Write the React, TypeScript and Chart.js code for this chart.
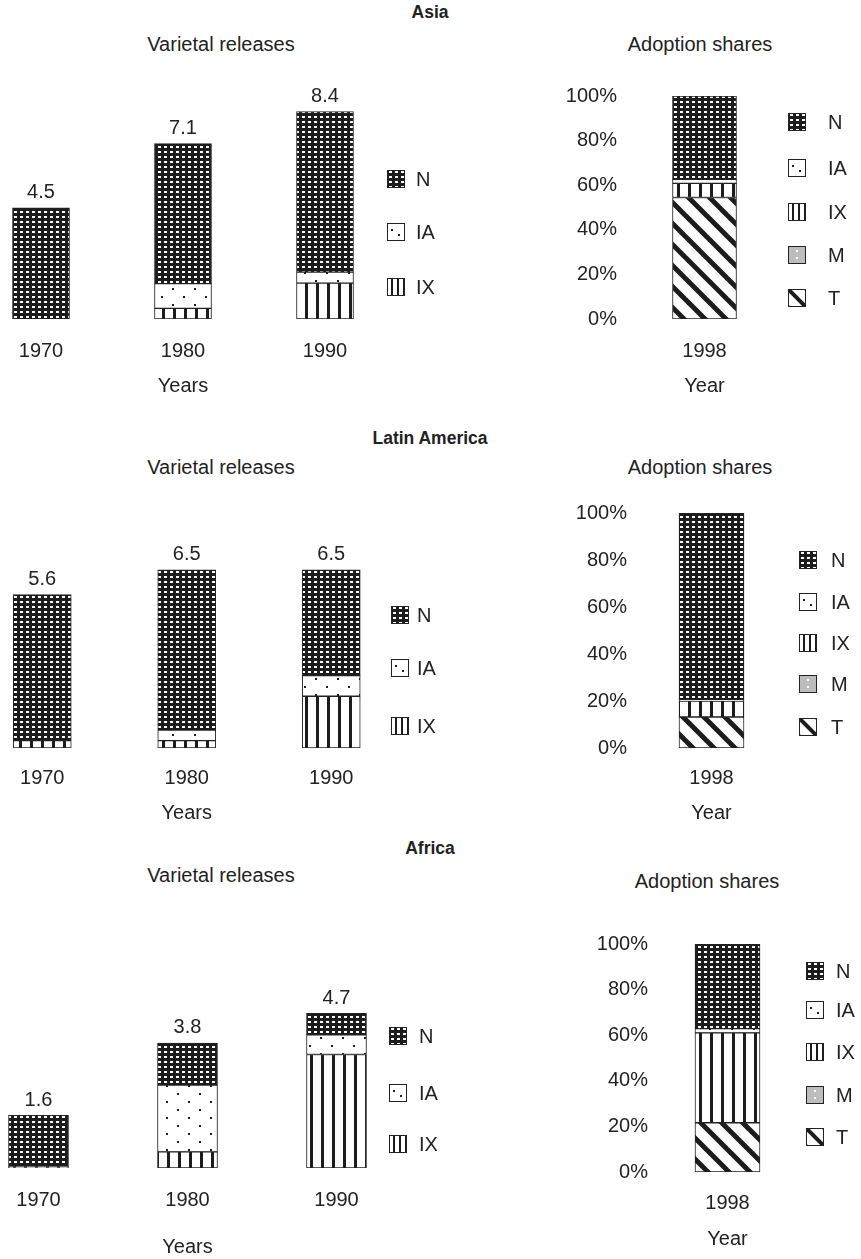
import React, { useEffect, useRef } from "react";
import { Chart, registerables } from "chart.js";
Chart.register(...registerables);

const FONT = "'Liberation Sans', Arial, Helvetica, sans-serif";
const INK = "#222";
const FS = 20; // text size
const LH = 24; // line height used by Chart.js (1.2 * FS)
Chart.defaults.font.family = FONT;
Chart.defaults.font.size = FS;
Chart.defaults.color = INK;

// ---------------- data ----------------
const YEARS = ["1970", "1980", "1990"];
const SHARE_YEAR = ["1998"];
const PCT_TICKS = [0, 20, 40, 60, 80, 100];

// Asia – varietal releases (stack: IX bottom, IA, N top)
const ASIA_TOTALS = [4.5, 7.1, 8.4];
const ASIA_IX = [0, 0.43, 1.45];
const ASIA_IA = [0, 1.0, 0.45];
const ASIA_N = [4.5, 5.67, 6.5];
// Asia – adoption shares 1998 (%)
const ASIA_SH_T = [54.5];
const ASIA_SH_M = [0];
const ASIA_SH_IX = [6.3];
const ASIA_SH_IA = [1.8];
const ASIA_SH_N = [37.4];

// Latin America
const LA_TOTALS = [5.6, 6.5, 6.5];
const LA_IX = [0.27, 0.27, 1.89];
const LA_IA = [0, 0.38, 0.75];
const LA_N = [5.33, 5.85, 3.86];
const LA_SH_T = [13.2];
const LA_SH_M = [0];
const LA_SH_IX = [6.8];
const LA_SH_IA = [0.6];
const LA_SH_N = [79.4];

// Africa
const AF_TOTALS = [1.6, 3.8, 4.7];
const AF_IX = [0.05, 0.49, 3.45];
const AF_IA = [0, 2.03, 0.6];
const AF_N = [1.55, 1.28, 0.65];
const AF_SH_T = [21.6];
const AF_SH_M = [0];
const AF_SH_IX = [39.4];
const AF_SH_IA = [1.9];
const AF_SH_N = [37.1];

const REGIONS = [
  { name: "Asia", totals: ASIA_TOTALS, ix: ASIA_IX, ia: ASIA_IA, n: ASIA_N,
    sT: ASIA_SH_T, sM: ASIA_SH_M, sIX: ASIA_SH_IX, sIA: ASIA_SH_IA, sN: ASIA_SH_N },
  { name: "Latin America", totals: LA_TOTALS, ix: LA_IX, ia: LA_IA, n: LA_N,
    sT: LA_SH_T, sM: LA_SH_M, sIX: LA_SH_IX, sIA: LA_SH_IA, sN: LA_SH_N },
  { name: "Africa", totals: AF_TOTALS, ix: AF_IX, ia: AF_IA, n: AF_N,
    sT: AF_SH_T, sM: AF_SH_M, sIX: AF_SH_IX, sIA: AF_SH_IA, sN: AF_SH_N },
];

// ---------------- layout ----------------
const VAR_LAYOUT = [
  { canvasTop: 60, base: 319, ppu: 24.7, first: 40.5, step: 142, barW: 57, tickPad: 20, titlePad: 11, legendX: 387, legendGap: 11, legendY: [179, 232, 287] },
  { canvasTop: 490, base: 748, ppu: 27.4, first: 42, step: 144.5, barW: 58, tickPad: 18, titlePad: 11, legendX: 391, legendGap: 8, legendY: [615, 668, 726] },
  { canvasTop: 905, base: 1168, ppu: 32.9, first: 38, step: 149, barW: 60, tickPad: 20, titlePad: 23, legendX: 389, legendGap: 12, legendY: [1036, 1093, 1144] },
];
const ADOPT_LAYOUT = [
  { canvasLeft: 540, canvasTop: 70, base: 319, top100: 96, center: 704.5, barW: 64, labelRight: 617, tickPad: 20, titlePad: 11, legendX: 788, legendGap: 22, legendY: [122, 168, 212, 255, 298] },
  { canvasLeft: 540, canvasTop: 490, base: 748, top100: 513, center: 711.5, barW: 65, labelRight: 627, tickPad: 18, titlePad: 11, legendX: 799, legendGap: 14, legendY: [560, 602, 643, 684, 727] },
  { canvasLeft: 540, canvasTop: 920, base: 1172, top100: 944, center: 727.5, barW: 65, labelRight: 648, tickPad: 19, titlePad: 12, legendX: 806, legendGap: 12, legendY: [971, 1010, 1052, 1095, 1137] },
];
const HEADINGS = [
  { y: 12, sub: 44, subAdopt: 44, adoptX: 700 },
  { y: 438, sub: 467, subAdopt: 467, adoptX: 700 },
  { y: 848, sub: 875, subAdopt: 881, adoptX: 707 },
];

// ---------------- patterns ----------------
function tile(w: number, h: number, draw: (g: CanvasRenderingContext2D) => void) {
  const c = document.createElement("canvas");
  c.width = w;
  c.height = h;
  const g = c.getContext("2d")!;
  draw(g);
  return c;
}
function makePatterns(ctx: CanvasRenderingContext2D) {
  const pat = (c: HTMLCanvasElement) => ctx.createPattern(c, "repeat")!;
  const dark = "#1c1c1c";
  const N = tile(6, 5, (g) => { g.fillStyle = dark; g.fillRect(0, 0, 6, 5); g.fillStyle = "#fff"; g.fillRect(2, 1, 3, 2); });
  const IA = tile(22, 16, (g) => { g.fillStyle = "#fff"; g.fillRect(0, 0, 22, 16); g.fillStyle = dark; g.fillRect(4, 4, 2, 2); g.fillRect(15, 12, 2, 2); });
  const IX = tile(11, 4, (g) => { g.fillStyle = "#fff"; g.fillRect(0, 0, 11, 4); g.fillStyle = dark; g.fillRect(5, 0, 3, 4); });
  const T = tile(21, 21, (g) => {
    g.fillStyle = "#fff"; g.fillRect(0, 0, 21, 21);
    g.strokeStyle = dark; g.lineWidth = 5;
    for (let k = -1; k <= 1; k++) { g.beginPath(); g.moveTo(k * 21 - 4, -4); g.lineTo(k * 21 + 25, 25); g.stroke(); }
  });
  const M = tile(8, 8, (g) => { g.fillStyle = "#bdbdbd"; g.fillRect(0, 0, 8, 8); g.fillStyle = "#fff"; g.fillRect(3, 3, 2, 2); });
  // icon variants for legend (anchored to icon origin)
  const IAi = tile(18, 18, (g) => { g.fillStyle = "#fff"; g.fillRect(0, 0, 18, 18); g.fillStyle = dark; g.fillRect(4, 6, 2, 2); g.fillRect(11, 11, 2, 2); });
  const IXi = tile(6, 18, (g) => { g.fillStyle = "#fff"; g.fillRect(0, 0, 6, 18); g.fillStyle = dark; g.fillRect(4, 0, 2, 18); });
  const Ti = tile(18, 18, (g) => {
    g.fillStyle = "#fff"; g.fillRect(0, 0, 18, 18);
    g.strokeStyle = dark; g.lineWidth = 4;
    for (let k = -1; k <= 1; k++) { g.beginPath(); g.moveTo(k * 18 - 3, -3); g.lineTo(k * 18 + 21, 21); g.stroke(); }
  });
  const Mi = tile(18, 18, (g) => { g.fillStyle = "#bdbdbd"; g.fillRect(0, 0, 18, 18); g.fillStyle = "#fff"; g.fillRect(8, 4, 2, 2); g.fillRect(8, 11, 2, 2); });
  return {
    N: pat(N), IA: pat(IA), IX: pat(IX), T: pat(T), M: pat(M),
    IAi: pat(IAi), IXi: pat(IXi), Ti: pat(Ti), Mi: pat(Mi),
  };
}

// ---------------- plugins ----------------
const barTotals = {
  id: "barTotals",
  afterDatasetsDraw(chart: any, _a: any, opts: any) {
    const { ctx } = chart;
    const meta = chart.getDatasetMeta(chart.data.datasets.length - 1);
    const yScale = chart.scales.y;
    ctx.save();
    ctx.font = `${FS}px ${FONT}`;
    ctx.fillStyle = INK;
    ctx.textAlign = "center";
    ctx.textBaseline = "bottom";
    (opts.labels as number[]).forEach((v, i) => {
      const el = meta.data[i];
      const sum = chart.data.datasets.reduce((s: number, d: any) => s + (d.data[i] || 0), 0);
      const y = yScale.getPixelForValue(sum);
      ctx.fillText(v.toFixed(1), el.x, y - 5);
    });
    ctx.restore();
  },
};

const patternLegend = {
  id: "patternLegend",
  afterDraw(chart: any, _a: any, opts: any) {
    const { ctx } = chart;
    const ds = [...chart.data.datasets].reverse();
    const s = opts.size;
    ctx.save();
    ctx.font = `${FS}px ${FONT}`;
    ctx.textBaseline = "middle";
    ctx.textAlign = "left";
    ds.forEach((d: any, i: number) => {
      const y = Math.round(opts.ys[i] - s / 2);
      const x = Math.round(opts.x);
      ctx.save();
      ctx.translate(x, y);
      ctx.fillStyle = d.legendFill || d.backgroundColor;
      ctx.fillRect(0, 0, s, s);
      ctx.strokeStyle = INK;
      ctx.lineWidth = 1;
      ctx.strokeRect(0.5, 0.5, s - 1, s - 1);
      ctx.restore();
      ctx.fillStyle = INK;
      ctx.fillText(d.label, x + s + opts.gap, y + s / 2 + 1);
    });
    ctx.restore();
  },
};

const common = { borderColor: INK, borderWidth: 1, borderSkipped: false };

function axisHeight(L: any) {
  return L.tickPad + LH + LH + L.titlePad;
}

function xAxis(L: any, title: string) {
  const h = axisHeight(L);
  return {
    stacked: true, offset: true,
    grid: { display: false, drawTicks: false }, border: { display: false },
    ticks: { padding: L.tickPad, color: INK, font: { size: FS } },
    title: { display: true, text: title, color: INK, font: { size: FS }, padding: { top: L.titlePad, bottom: 0 } },
    afterFit: (s: any) => { s.height = h; },
  };
}

function varietalConfig(ctx: CanvasRenderingContext2D, r: any, L: any, left: number, width: number, height: number) {
  const P = makePatterns(ctx);
  const padTop = 20;
  const plotH = height - axisHeight(L) - padTop;
  return {
    type: "bar",
    data: {
      labels: YEARS,
      datasets: [
        { label: "IX", data: r.ix, backgroundColor: P.IX, legendFill: P.IXi, barThickness: L.barW, ...common },
        { label: "IA", data: r.ia, backgroundColor: P.IA, legendFill: P.IAi, barThickness: L.barW, ...common },
        { label: "N", data: r.n, backgroundColor: P.N, barThickness: L.barW, ...common },
      ],
    },
    options: {
      responsive: false,
      animation: false,
      layout: { padding: { top: padTop, left: 0, right: width - 3 * L.step, bottom: 0 } },
      scales: {
        x: xAxis(L, "Years"),
        y: { stacked: true, display: false, min: 0, max: plotH / L.ppu },
      },
      plugins: {
        legend: { display: false },
        tooltip: { enabled: false },
        barTotals: { labels: r.totals },
        patternLegend: { x: L.legendX - left, ys: L.legendY.map((y: number) => y - L.canvasTop), size: 18, gap: L.legendGap },
      },
    },
    plugins: [barTotals, patternLegend],
  };
}

function adoptionConfig(ctx: CanvasRenderingContext2D, r: any, L: any, width: number, height: number) {
  const P = makePatterns(ctx);
  const yPad = 5;
  const chartLeft = L.labelRight + yPad - L.canvasLeft;
  const plotW = 2 * (L.center - L.canvasLeft - chartLeft);
  return {
    type: "bar",
    data: {
      labels: SHARE_YEAR,
      datasets: [
        { label: "T", data: r.sT, backgroundColor: P.T, legendFill: P.Ti, barThickness: L.barW, ...common },
        { label: "M", data: r.sM, backgroundColor: P.M, legendFill: P.Mi, barThickness: L.barW, ...common },
        { label: "IX", data: r.sIX, backgroundColor: P.IX, legendFill: P.IXi, barThickness: L.barW, ...common },
        { label: "IA", data: r.sIA, backgroundColor: P.IA, legendFill: P.IAi, barThickness: L.barW, ...common },
        { label: "N", data: r.sN, backgroundColor: P.N, barThickness: L.barW, ...common },
      ],
    },
    options: {
      responsive: false,
      animation: false,
      layout: { padding: { top: L.top100 - L.canvasTop, left: 0, right: width - chartLeft - plotW, bottom: 0 } },
      scales: {
        x: xAxis(L, "Year"),
        y: {
          stacked: true, min: 0, max: 100,
          grid: { display: false, drawTicks: false }, border: { display: false },
          ticks: { padding: yPad, color: INK, font: { size: FS }, callback: (v: any) => `${v}%` },
          afterBuildTicks: (s: any) => { s.ticks = PCT_TICKS.map((v) => ({ value: v })); },
          afterFit: (s: any) => { s.width = chartLeft; },
        },
      },
      plugins: {
        legend: { display: false },
        tooltip: { enabled: false },
        patternLegend: { x: L.legendX - L.canvasLeft, ys: L.legendY.map((y: number) => y - L.canvasTop), size: 18, gap: L.legendGap },
      },
    },
    plugins: [patternLegend],
  };
}

function ChartBox({ left, top, width, height, build }: any) {
  const ref = useRef<HTMLCanvasElement>(null);
  useEffect(() => {
    const canvas = ref.current!;
    const ctx = canvas.getContext("2d")!;
    const chart = new Chart(ctx, build(ctx) as any);
    return () => chart.destroy();
  }, []);
  return (
    <canvas
      ref={ref}
      width={width}
      height={height}
      style={{ position: "absolute", left, top, width, height, display: "block" }}
    />
  );
}

function Label({ x, y, text, bold }: any) {
  return (
    <div
      style={{
        position: "absolute", left: x, top: y, transform: "translate(-50%, -50%)",
        whiteSpace: "nowrap", fontFamily: FONT, fontSize: bold ? 17.5 : FS, fontWeight: bold ? "bold" : "normal",
        color: INK, lineHeight: "24px",
      }}
    >
      {text}
    </div>
  );
}

export default function App() {
  return (
    <div style={{ position: "absolute", left: 0, top: 0, width: 861, height: 1259, background: "#fff", overflow: "hidden" }}>
      {REGIONS.map((r, i) => {
        const V = VAR_LAYOUT[i];
        const A = ADOPT_LAYOUT[i];
        const H = HEADINGS[i];
        const vLeft = Math.round(V.first - V.step / 2);
        const vWidth = 470 - vLeft;
        const vHeight = Math.round(V.base - V.canvasTop + axisHeight(V));
        const aWidth = 861 - A.canvasLeft;
        const aHeight = Math.round(A.base - A.canvasTop + axisHeight(A));
        return (
          <React.Fragment key={r.name}>
            <Label x={430} y={H.y} text={r.name} bold />
            <Label x={221} y={H.sub} text="Varietal releases" />
            <Label x={H.adoptX} y={H.subAdopt} text="Adoption shares" />
            <ChartBox
              left={vLeft} top={V.canvasTop} width={vWidth} height={vHeight}
              build={(ctx: CanvasRenderingContext2D) => varietalConfig(ctx, r, V, vLeft, vWidth, vHeight)}
            />
            <ChartBox
              left={A.canvasLeft} top={A.canvasTop} width={aWidth} height={aHeight}
              build={(ctx: CanvasRenderingContext2D) => adoptionConfig(ctx, r, A, aWidth, aHeight)}
            />
          </React.Fragment>
        );
      })}
    </div>
  );
}
